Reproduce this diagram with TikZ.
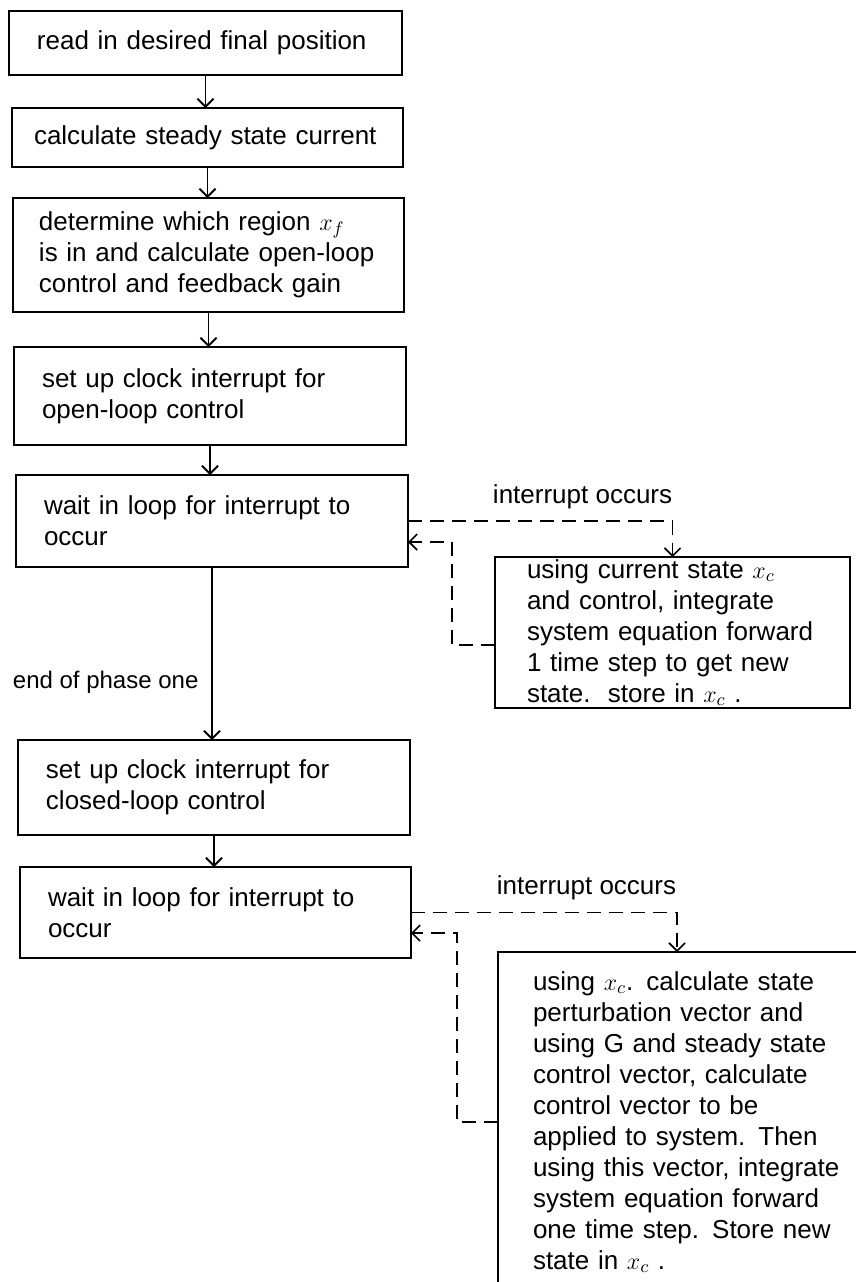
\documentclass[tikz,border=0pt]{standalone}
\usepackage{fontspec}
\setmainfont{Liberation Sans}
\usetikzlibrary{arrows.meta}

\begin{document}
\begin{tikzpicture}[
	x=0.5pt, y=-0.5pt,
	font=\fontsize{13}{15.5}\selectfont,
	>={Straight Barb[length=4pt, width=8pt]},
	MyBox/.style={draw, line width=1pt, anchor=north west, align=left,
		inner xsep=14pt, inner ysep=0pt, outer sep=0pt},
	MyLink/.style={->, line width=0.9pt},
	MyLoop/.style={->, line width=0.8pt, dash pattern=on 7pt off 4pt},
	]
	\useasboundingbox (0,0) rectangle (856,1282);
	
	% main column
	\node [MyBox, text width=168.5pt, minimum height=32pt] (1) at (9,11) {read in desired final position};
	\node [MyBox, inner xsep=11pt, text width=173.5pt, minimum height=29.5pt] (2) at (12,108) {calculate steady state current};
	\node [MyBox, inner xsep=13pt, text width=169.5pt, minimum height=57pt] (3) at (13,198) {determine which region $x_f$\\ is in and calculate open-loop\\ control and feedback gain};
	\node [MyBox, text width=168pt, minimum height=49pt] (4) at (14,347) {set up clock interrupt for\\ open-loop control};
	\node [MyBox, text width=168pt, minimum height=46pt] (5) at (16,475) {wait in loop for interrupt to\\ occur};
	\node [MyBox, text width=168pt, minimum height=47.5pt] (6) at (18,740) {set up clock interrupt for\\ closed-loop control};
	\node [MyBox, text width=167.5pt, minimum height=45.5pt] (7) at (20,867) {wait in loop for interrupt to\\ occur};
	
	% interrupt routines
	\node [MyBox, inner xsep=16pt, text width=145.5pt, minimum height=75.5pt] (A) at (495,557) {using current state $x_c$\\ and control, integrate\\ system equation forward\\ 1 time step to get new\\ state.\ \ store in $x_c$ .};
	\node [MyBox, inner xsep=17.5pt, text width=170pt, minimum height=170pt] (B) at (498,952) {using $x_c$. calculate state\\ perturbation vector and\\ using G and steady state\\ control vector, calculate\\ control vector to be\\ applied to system. Then\\ using this vector, integrate\\ system equation forward\\ one time step. Store new\\ state in $x_c$ .};
	
	\draw[MyLink] (1.south) -- (1.south |- 2.north);
	\draw[MyLink] (2.south) -- (2.south |- 3.north);
	\draw[MyLink] (3.south) -- (3.south |- 4.north);
	\draw[MyLink] (4.south) -- (4.south |- 5.north);
	\draw[MyLink] (5.south) -- node[left=3pt, pos=0.665, font=\fontsize{12}{14}\selectfont] {end of phase one} (5.south |- 6.north);
	\draw[MyLink] (6.south) -- (6.south |- 7.north);
	
	\draw[MyLoop] (5.east) -| node[above=2.5pt, pos=0.33] {interrupt occurs} (A.north);
	\draw[MyLoop] ([yshift=-6.25pt]A.west) -- ++(-43,0) |- ([yshift=-10.5pt]5.east);
	\draw[MyLoop] (7.east) -| node[above=2.5pt, pos=0.33] {interrupt occurs} ([xshift=89.5pt]B.north west);
	\draw[MyLoop] (B.west) -- ++(-41,0) |- ([yshift=-10.25pt]7.east);
\end{tikzpicture}
\end{document}
